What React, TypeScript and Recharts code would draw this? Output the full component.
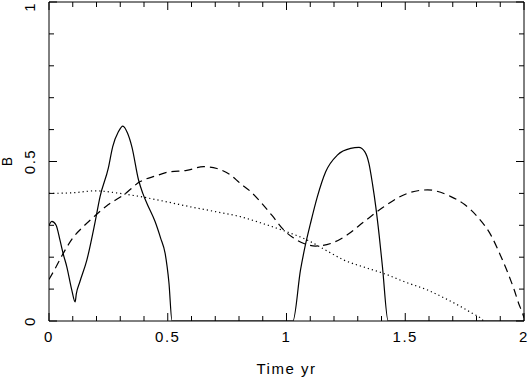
import { LineChart, Line, XAxis, YAxis } from "recharts"

// solid curve (t in yr, B)
const solidT = [0, 0.012, 0.03, 0.046, 0.06, 0.075, 0.096, 0.11, 0.115, 0.13, 0.159, 0.194, 0.215, 0.25, 0.268, 0.292, 0.311, 0.33, 0.349, 0.377, 0.395, 0.412, 0.447, 0.47, 0.489, 0.505, 0.518, 0.75, 1.027, 1.059, 1.08, 1.101, 1.13, 1.165, 1.214, 1.27, 1.305, 1.33, 1.347, 1.362, 1.376, 1.39, 1.404, 1.428, 2]
const solidB = [0.3, 0.312, 0.3, 0.254, 0.21, 0.17, 0.097, 0.06, 0.085, 0.123, 0.19, 0.31, 0.39, 0.48, 0.546, 0.593, 0.611, 0.59, 0.546, 0.442, 0.4, 0.369, 0.311, 0.26, 0.212, 0.12, 0, 0, 0, 0.16, 0.24, 0.306, 0.39, 0.468, 0.52, 0.541, 0.544, 0.53, 0.494, 0.43, 0.358, 0.27, 0.17, 0, 0]

// dashed curve
const dashT = [0, 0.03, 0.06, 0.1, 0.15, 0.194, 0.25, 0.314, 0.384, 0.45, 0.51, 0.58, 0.651, 0.707, 0.76, 0.806, 0.85, 0.89, 0.94, 0.989, 1.03, 1.073, 1.122, 1.186, 1.256, 1.326, 1.41, 1.509, 1.594, 1.692, 1.75, 1.804, 1.86, 1.903, 1.935, 1.959, 1.98, 1.994, 2]
const dashB = [0.13, 0.17, 0.212, 0.26, 0.3, 0.33, 0.365, 0.395, 0.437, 0.455, 0.468, 0.472, 0.484, 0.478, 0.46, 0.431, 0.405, 0.374, 0.33, 0.285, 0.26, 0.243, 0.235, 0.243, 0.27, 0.311, 0.358, 0.4, 0.411, 0.39, 0.365, 0.327, 0.27, 0.202, 0.145, 0.097, 0.05, 0.024, 0.01]

// dotted curve
const dotT = [0, 0.1, 0.194, 0.3, 0.384, 0.5, 0.595, 0.7, 0.806, 0.89, 1.0, 1.087, 1.17, 1.242, 1.33, 1.41, 1.5, 1.594, 1.67, 1.734, 1.78, 1.819, 1.83]
const dotB = [0.4, 0.402, 0.408, 0.4, 0.39, 0.373, 0.358, 0.343, 0.327, 0.308, 0.28, 0.254, 0.22, 0.191, 0.168, 0.149, 0.122, 0.097, 0.07, 0.045, 0.025, 0.008, 0]

const xTicks = [0, 0.1, 0.2, 0.3, 0.4, 0.5, 0.6, 0.7, 0.8, 0.9, 1, 1.1, 1.2, 1.3, 1.4, 1.5, 1.6, 1.7, 1.8, 1.9, 2]
const yTicks = [0, 0.1, 0.2, 0.3, 0.4, 0.5, 0.6, 0.7, 0.8, 0.9, 1]

const zip = (ts: number[], bs: number[]) => ts.map((t, i) => ({ t, b: bs[i] }))
const solidData = zip(solidT, solidB)
const dashData = zip(dashT, dashB)
const dotData = zip(dotT, dotB)

const FONT = "'Liberation Sans', Arial, sans-serif"
const isMajor = (v: number) => Math.abs(v * 2 - Math.round(v * 2)) < 1e-6
const fmt = (v: number) => String(Math.round(v * 10) / 10)

const Tick = (props: any) => {
  const { x, y, payload, side } = props
  const v = payload.value
  const len = isMajor(v) ? 8 : 5
  let line
  if (side === "bottom") line = <line x1={x} y1={y} x2={x} y2={y - len} stroke="#000" />
  else if (side === "top") line = <line x1={x} y1={y} x2={x} y2={y + len} stroke="#000" />
  else if (side === "left") line = <line x1={x} y1={y} x2={x + len} y2={y} stroke="#000" />
  else line = <line x1={x} y1={y} x2={x - len} y2={y} stroke="#000" />
  let label = null
  if (isMajor(v) && side === "bottom") {
    label = (
      <text x={x} y={y + 21} textAnchor="middle" fontFamily={FONT} fontSize={15} letterSpacing={1.5} fill="#000">
        {fmt(v)}
      </text>
    )
  }
  if (isMajor(v) && side === "left") {
    // top label would be clipped at the edge, so it hangs down from its tick
    const anchor = v >= 1 ? "end" : "middle"
    label = (
      <text x={x - 14} y={y} textAnchor={anchor} transform={`rotate(-90, ${x - 14}, ${y})`} fontFamily={FONT} fontSize={15} letterSpacing={1.5} fill="#000">
        {fmt(v)}
      </text>
    )
  }
  return (
    <g>
      {line}
      {label}
    </g>
  )
}

const XTitle = (props: any) => {
  const { x, y, width } = props.viewBox
  return (
    <text x={x + width / 2} y={y + 53} textAnchor="middle" fontFamily={FONT} fontSize={15} letterSpacing={1.5} fill="#000">
      Time yr
    </text>
  )
}

const YTitle = (props: any) => {
  const { x, y, width, height } = props.viewBox
  const cx = x + width - 37
  const cy = y + height / 2
  return (
    <text x={cx} y={cy} textAnchor="middle" transform={`rotate(-90, ${cx}, ${cy})`} fontFamily={FONT} fontSize={14} fill="#000">
      B
    </text>
  )
}

export default function App() {
  return (
    <div style={{ position: "absolute", left: 0, top: 0, width: 530, height: 380, background: "#fff" }}>
      <LineChart width={530} height={380} margin={{ top: 1, right: 5, left: 48, bottom: 58 }}>
        <XAxis xAxisId="b" dataKey="t" type="number" domain={[0, 2]} ticks={xTicks} interval={0} allowDataOverflow
          height={1} tickSize={0} tickMargin={0} tickLine={false} axisLine={{ stroke: "#000" }}
          tick={<Tick side="bottom" />} label={<XTitle />} />
        <XAxis xAxisId="t" orientation="top" dataKey="t" type="number" domain={[0, 2]} ticks={xTicks} interval={0} allowDataOverflow
          height={1} tickSize={0} tickMargin={0} tickLine={false} axisLine={{ stroke: "#000" }}
          tick={<Tick side="top" />} />
        <YAxis yAxisId="l" type="number" domain={[0, 1]} ticks={yTicks} interval={0} allowDataOverflow
          width={1} tickSize={0} tickMargin={0} tickLine={false} axisLine={{ stroke: "#000" }}
          tick={<Tick side="left" />} label={<YTitle />} />
        <YAxis yAxisId="r" orientation="right" type="number" domain={[0, 1]} ticks={yTicks} interval={0} allowDataOverflow
          width={1} tickSize={0} tickMargin={0} tickLine={false} axisLine={{ stroke: "#000" }}
          tick={<Tick side="right" />} />
        <Line xAxisId="b" yAxisId="l" data={dotData} dataKey="b" type="monotone" stroke="#000" strokeWidth={1.2}
          strokeDasharray="1.2 3" dot={false} isAnimationActive={false} />
        <Line xAxisId="b" yAxisId="l" data={dashData} dataKey="b" type="monotone" stroke="#000" strokeWidth={1.2}
          strokeDasharray="8 5" dot={false} isAnimationActive={false} />
        <Line xAxisId="b" yAxisId="l" data={solidData} dataKey="b" type="monotone" stroke="#000" strokeWidth={1.2}
          dot={false} isAnimationActive={false} />
      </LineChart>
    </div>
  )
}
